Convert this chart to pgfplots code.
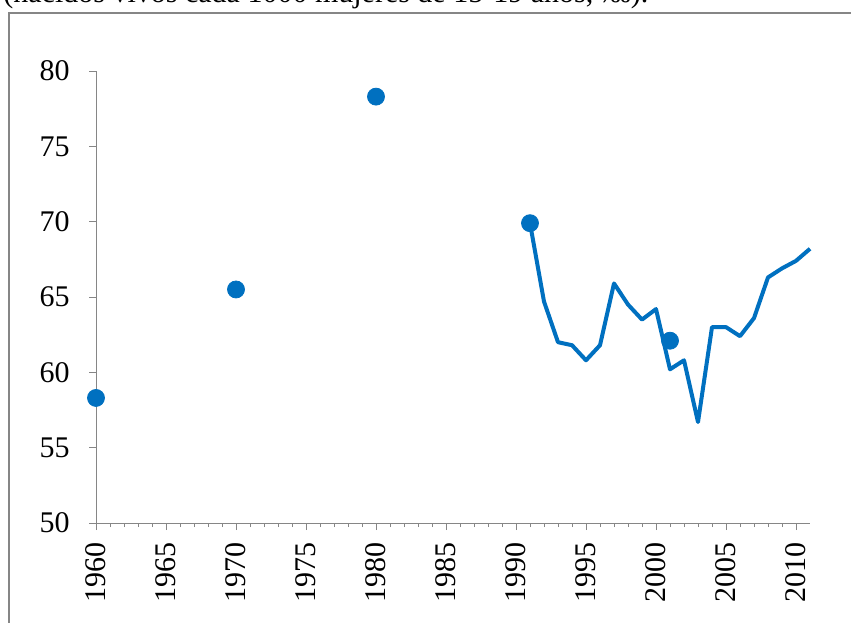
\documentclass[border=0pt]{standalone}
\usepackage{fontspec}
\setmainfont{Liberation Serif}
\usepackage{pgfplots}
\pgfplotsset{compat=1.18}
\definecolor{ser}{RGB}{0,112,192}
\definecolor{axg}{RGB}{134,134,134}
\begin{document}
\fontsize{15pt}{18pt}\selectfont
\begin{tikzpicture}
\useasboundingbox (0,0) rectangle (425.5pt,311pt);
\node[anchor=base west, inner sep=0pt, font=\fontsize{15pt}{18pt}\selectfont] at (1.5pt,309.5pt) {(nacidos vivos cada 1000 mujeres de 15-19 años, ‰).};
\draw[axg, line width=0.6pt] (4.5pt,-5pt) -- (4.5pt,304.5pt) -- (440pt,304.5pt);
\begin{axis}[
  at={(48pt,49.5pt)}, anchor=south west,
  scale only axis, width=357pt, height=226pt,
  xmin=1960, xmax=2011, ymin=50, ymax=80,
  axis x line=bottom, axis y line=left,
  axis line style={axg, -, line width=0.5pt},
  xtick={1960,1965,...,2010}, minor x tick num=4,
  ytick={50,55,...,80},
  tick align=outside,
  tick style={axg, line width=0.5pt},
  major tick length=3.5pt, minor tick length=2pt,
  /pgf/number format/1000 sep={},
  /pgf/number format/assume math mode=true,
  tick label style={font=\fontsize{15pt}{18pt}\selectfont},
  x tick label style={rotate=90, anchor=east, xshift=-1pt},
  y tick label style={xshift=-4.5pt},
  clip=false,
]
\addplot[ser, line width=2pt, line join=round] coordinates {(1991,69.9)(1992,64.7)(1993,62.0)(1994,61.8)(1995,60.8)(1996,61.8)(1997,65.9)(1998,64.5)(1999,63.5)(2000,64.2)(2001,60.2)(2002,60.8)(2003,56.7)(2004,63.0)(2005,63.0)(2006,62.4)(2007,63.6)(2008,66.3)(2009,66.9)(2010,67.4)(2011,68.2)};
\addplot[ser, only marks, mark=*, mark size=4.25pt] coordinates {(1960,58.3)(1970,65.5)(1980,78.3)(1991,69.9)(2001,62.1)};
\end{axis}
\end{tikzpicture}
\end{document}
